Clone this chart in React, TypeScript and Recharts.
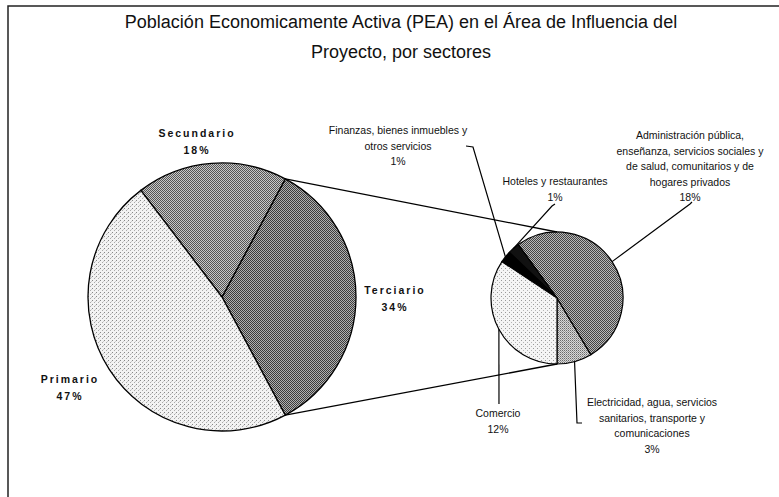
import { Cell, Customized, Pie, PieChart } from "recharts";

// sector shares of the economically active population (%)
const MAIN_SECTORS = ["Terciario", "Secundario", "Primario"];
const MAIN_VALUES = [34, 18, 47];

// breakdown of the tertiary sector (% of total PEA)
const DETAIL_SECTORS = [
  "Electricidad, agua, servicios sanitarios, transporte y comunicaciones",
  "Administración pública, enseñanza, servicios sociales y de salud, comunitarios y de hogares privados",
  "Hoteles y restaurantes",
  "Finanzas, bienes inmuebles y otros servicios",
  "Comercio",
];
const DETAIL_VALUES = [3, 18, 1, 1, 12];

// how each detail label wraps in the original
const DETAIL_LABEL_LINES = [
  ["Electricidad, agua, servicios", "sanitarios, transporte y", "comunicaciones"],
  [
    "Administración pública,",
    "enseñanza, servicios sociales y",
    "de salud, comunitarios y de",
    "hogares privados",
  ],
  ["Hoteles y restaurantes"],
  ["Finanzas, bienes inmuebles y", "otros servicios"],
  ["Comercio"],
];

const TITLE_LINES = [
  "Población Economicamente Activa (PEA) en el Área de Influencia del",
  "Proyecto, por sectores",
];

// ---- layout ----
const WIDTH = 779;
const HEIGHT = 497;
const FONT = "'Liberation Sans', Arial, sans-serif";
const LINE = 15.5;

const MAIN_PIE = { cx: 222, cy: 297, r: 134 };
const DETAIL_PIE = { cx: 557, cy: 298, r: 66 };

const MAIN_FILLS = ["url(#pTer)", "url(#pSec)", "url(#pPrim)"];
const DETAIL_FILLS = ["url(#pElec)", "url(#pAdm)", "#111", "#000", "url(#pCom)"];

const MAIN_LABEL_AT = [
  { x: 395, y: 290 },
  { x: 197, y: 133 },
  { x: 70, y: 379 },
];

// label centre of first line + leader bend points (edge point comes from the slice)
const DETAIL_LABEL_AT = [
  { x: 652, y: 402, leader: [[577, 423], [582, 423]] },
  { x: 690, y: 135, leader: [[690, 204], [692, 202]] },
  { x: 555, y: 181, leader: [[552, 206], [555, 204]] },
  { x: 398, y: 130, leader: [[473, 147], [466, 146]] },
  { x: 498, y: 413, leader: [[499, 404]] },
];

const RAD = Math.PI / 180;
const polar = (cx: number, cy: number, r: number, deg: number) => [
  cx + r * Math.cos(-deg * RAD),
  cy + r * Math.sin(-deg * RAD),
];

function MainLabel(props: any) {
  const { index, startAngle, endAngle, cx, cy, outerRadius, value } = props;
  const at = MAIN_LABEL_AT[index];
  const name = MAIN_SECTORS[index];
  let connectors = null;
  if (index === 0) {
    // pie-of-pie connectors from the split slice to the detail pie
    const [x1, y1] = polar(cx, cy, outerRadius, endAngle);
    const [x2, y2] = polar(cx, cy, outerRadius, startAngle);
    const [tx, ty] = polar(DETAIL_PIE.cx, DETAIL_PIE.cy, DETAIL_PIE.r, 90);
    const [bx, by] = polar(DETAIL_PIE.cx, DETAIL_PIE.cy, DETAIL_PIE.r, 270);
    connectors = (
      <g stroke="#000" strokeWidth={1.3}>
        <line x1={x1} y1={y1} x2={tx} y2={ty} />
        <line x1={x2} y1={y2} x2={bx} y2={by} />
      </g>
    );
  }
  return (
    <g>
      {connectors}
      <text
        x={at.x}
        textAnchor="middle"
        fontFamily={FONT}
        fontSize={10.5}
        fontWeight="bold"
        letterSpacing={2}
        fill="#111"
      >
        <tspan x={at.x} y={at.y} dominantBaseline="central">
          {name}
        </tspan>
        <tspan x={at.x} y={at.y + 17} dominantBaseline="central">
          {`${value}%`}
        </tspan>
      </text>
    </g>
  );
}

function DetailLabel(props: any) {
  const { index, midAngle, cx, cy, outerRadius, value } = props;
  const at = DETAIL_LABEL_AT[index];
  const lines = [...DETAIL_LABEL_LINES[index], `${value}%`];
  const [ex, ey] = polar(cx, cy, outerRadius, midAngle);
  const pts = [[ex, ey], ...at.leader];
  return (
    <g>
      <polyline
        points={pts.map((p) => p.join(",")).join(" ")}
        fill="none"
        stroke="#000"
        strokeWidth={1.2}
      />
      <text textAnchor="middle" fontFamily={FONT} fontSize={10.5} fill="#111">
        {lines.map((t, i) => (
          <tspan key={i} x={at.x} y={at.y + i * LINE} dominantBaseline="central">
            {t}
          </tspan>
        ))}
      </text>
    </g>
  );
}

function Frame() {
  return (
    <g>
      <path d={`M8,${HEIGHT} L8,6 L${WIDTH},6`} fill="none" stroke="#222" strokeWidth={1.5} />
      <text textAnchor="middle" fontFamily={FONT} fontSize={18} fill="#111">
        {TITLE_LINES.map((t, i) => (
          <tspan key={i} x={401} y={22 + i * 29.5} dominantBaseline="central">
            {t}
          </tspan>
        ))}
      </text>
    </g>
  );
}

const mainData = MAIN_SECTORS.map((name, i) => ({ name, value: MAIN_VALUES[i] }));
const detailData = DETAIL_SECTORS.map((name, i) => ({ name, value: DETAIL_VALUES[i] }));

// split slice is centred on the 3 o'clock direction
const mainTotal = MAIN_VALUES.reduce((a, b) => a + b, 0);
const mainStart = -((MAIN_VALUES[0] / mainTotal) * 360) / 2;

export default function App() {
  return (
    <div style={{ position: "absolute", left: 0, top: 0, width: WIDTH, height: HEIGHT, background: "#fff" }}>
      <PieChart width={WIDTH} height={HEIGHT} margin={{ top: 0, right: 0, bottom: 0, left: 0 }}>
        <defs>
          <pattern id="pPrim" width="4" height="4" patternUnits="userSpaceOnUse">
            <rect width="4" height="4" fill="#f3f3f3" />
            <rect x="0" y="0" width="1" height="1" fill="#888" />
            <rect x="2" y="2" width="1" height="1" fill="#aaa" />
            <rect x="3" y="1" width="1" height="1" fill="#ccc" />
          </pattern>
          <pattern id="pCom" width="4" height="4" patternUnits="userSpaceOnUse">
            <rect width="4" height="4" fill="#f5f5f5" />
            <rect x="1" y="0" width="1" height="1" fill="#999" />
            <rect x="3" y="2" width="1" height="1" fill="#b5b5b5" />
          </pattern>
          <pattern id="pSec" width="2" height="2" patternUnits="userSpaceOnUse">
            <rect width="2" height="2" fill="#c8c8c8" />
            <rect x="0" y="0" width="1" height="1" fill="#555" />
            <rect x="1" y="1" width="1" height="1" fill="#555" />
          </pattern>
          <pattern id="pTer" width="2" height="2" patternUnits="userSpaceOnUse">
            <rect width="2" height="2" fill="#b0b0b0" />
            <rect x="0" y="0" width="1" height="1" fill="#3c3c3c" />
            <rect x="1" y="1" width="1" height="1" fill="#3c3c3c" />
          </pattern>
          <pattern id="pAdm" width="2" height="2" patternUnits="userSpaceOnUse">
            <rect width="2" height="2" fill="#b8b8b8" />
            <rect x="0" y="0" width="1" height="1" fill="#444" />
            <rect x="1" y="1" width="1" height="1" fill="#444" />
          </pattern>
          <pattern id="pElec" width="2" height="2" patternUnits="userSpaceOnUse">
            <rect width="2" height="2" fill="#d8d8d8" />
            <rect x="0" y="0" width="1" height="1" fill="#6a6a6a" />
            <rect x="1" y="1" width="1" height="1" fill="#9a9a9a" />
          </pattern>
        </defs>
        <Customized component={Frame} />
        <Pie
          data={mainData}
          dataKey="value"
          nameKey="name"
          cx={MAIN_PIE.cx}
          cy={MAIN_PIE.cy}
          outerRadius={MAIN_PIE.r}
          startAngle={mainStart}
          endAngle={mainStart + 360}
          stroke="#000"
          strokeWidth={1.3}
          label={MainLabel}
          labelLine={false}
          isAnimationActive={false}
        >
          {mainData.map((d, i) => (
            <Cell key={d.name} fill={MAIN_FILLS[i]} />
          ))}
        </Pie>
        <Pie
          data={detailData}
          dataKey="value"
          nameKey="name"
          cx={DETAIL_PIE.cx}
          cy={DETAIL_PIE.cy}
          outerRadius={DETAIL_PIE.r}
          startAngle={270}
          endAngle={630}
          stroke="#000"
          strokeWidth={1.2}
          label={DetailLabel}
          labelLine={false}
          isAnimationActive={false}
        >
          {detailData.map((d, i) => (
            <Cell key={d.name} fill={DETAIL_FILLS[i]} />
          ))}
        </Pie>
      </PieChart>
    </div>
  );
}
